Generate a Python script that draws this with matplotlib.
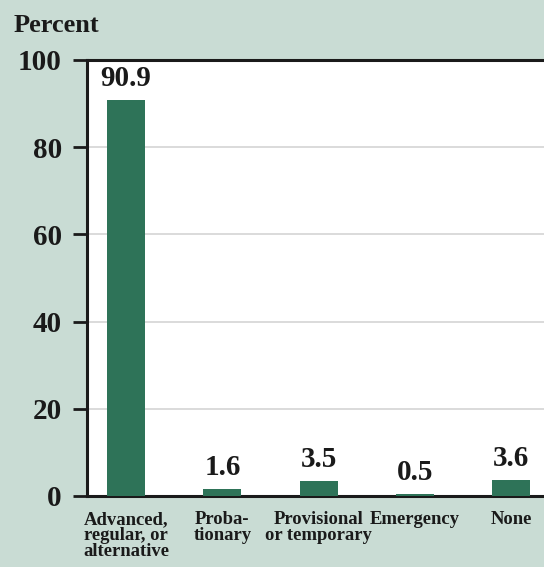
import matplotlib
matplotlib.use("Agg")
import matplotlib.pyplot as plt

categories = ["Advanced,\nregular, or\nalternative", "Proba-\ntionary",
              "Provisional\nor temporary", "Emergency", "None"]
values = [90.9, 1.6, 3.5, 0.5, 3.6]
value_labels = ["90.9", "1.6", "3.5", "0.5", "3.6"]
y_ticks = [0, 20, 40, 60, 80, 100]

BG = "#c9dcd4"
BAR = "#2e7358"
INK = "#1a1a1a"
FONT = "Liberation Serif"

fig = plt.figure(figsize=(5.44, 5.67), dpi=100, facecolor=BG)
ax = fig.add_axes([87 / 544, 71 / 567, 457 / 544, 436 / 567])
ax.set_facecolor("white")

x = list(range(len(categories)))
ax.bar(x, values, width=0.395, color=BAR, zorder=3)

ax.set_xlim(-0.405, 4.34)
ax.set_ylim(0, 100)
ax.set_yticks(y_ticks)
ax.set_yticklabels([str(t) for t in y_ticks], fontfamily=FONT,
                   fontweight="bold", fontsize=21, color=INK)
ax.set_xticks(x)
ax.set_xticklabels(categories, fontfamily=FONT, fontweight="bold",
                   fontsize=13.4, linespacing=0.9, va="top", color=INK)

ax.tick_params(axis="y", length=10, width=2, color=INK, pad=8)
ax.tick_params(axis="x", length=0, pad=11)

for g in y_ticks[1:-1]:
    ax.axhline(g, color="#d4d4d4", lw=1.2, zorder=1)

for side in ["left", "bottom", "top"]:
    ax.spines[side].set_linewidth(2.2)
    ax.spines[side].set_color(INK)
ax.spines["right"].set_visible(False)

for xi, v, lab in zip(x, values, value_labels):
    ax.annotate(lab, (xi, v), xytext=(0, 8), textcoords="offset pixels",
                ha="center", va="bottom", fontfamily=FONT,
                fontweight="bold", fontsize=21, color=INK)

fig.text(14 / 544, 1 - 25 / 567, "Percent", fontfamily=FONT,
         fontweight="bold", fontsize=19, va="center", ha="left",
         color=INK)

fig.savefig("out.png", dpi=100, facecolor=BG)
